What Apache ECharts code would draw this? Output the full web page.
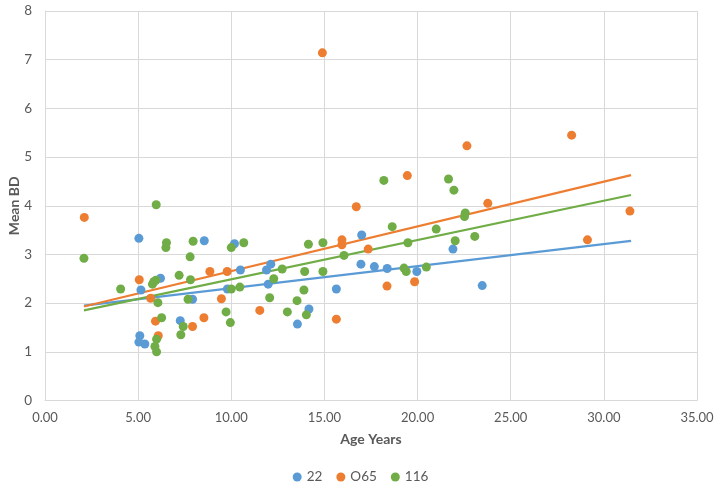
<!DOCTYPE html>
<html><head><meta charset="utf-8">
<script src="https://cdn.jsdelivr.net/npm/echarts@6/dist/echarts.min.js"></script>
<style>html,body{margin:0;padding:0;background:#fff}#c{width:721px;height:486px}</style>
</head><body><div id="c"></div>
<script>
const seriesNames = ['22', 'O65', '116'];
const data22 = [[5.04,3.33],[8.55,3.28],[5.15,2.27],[6.20,2.51],[7.92,2.08],[7.26,1.64],[5.09,1.33],[5.04,1.20],[5.36,1.16],[9.79,2.29],[10.17,3.22],[10.49,2.68],[11.89,2.68],[12.12,2.80],[11.98,2.39],[13.55,1.57],[14.17,1.88],[15.64,2.29],[17.0,3.40],[16.96,2.80],[17.68,2.75],[18.37,2.71],[19.96,2.65],[21.9,3.11],[23.47,2.36]];
const dataO65 = [[2.11,3.76],[5.06,2.48],[5.67,2.10],[5.93,1.63],[6.08,1.33],[8.85,2.65],[9.78,2.65],[9.47,2.09],[8.53,1.70],[7.92,1.52],[11.53,1.85],[14.89,7.14],[16.71,3.98],[15.94,3.30],[15.94,3.20],[17.35,3.11],[15.64,1.67],[18.36,2.35],[19.45,4.62],[19.84,2.44],[22.65,5.23],[23.77,4.05],[28.27,5.45],[29.12,3.30],[31.4,3.89]];
const data116 = [[2.09,2.92],[4.06,2.29],[5.97,4.02],[6.52,3.24],[6.49,3.14],[7.95,3.27],[7.79,2.95],[7.20,2.57],[7.81,2.48],[5.77,2.39],[5.84,2.44],[5.95,2.47],[6.06,2.01],[7.68,2.08],[6.26,1.70],[7.42,1.52],[7.29,1.35],[5.99,1.26],[5.90,1.11],[5.99,1.00],[9.72,1.82],[9.95,1.60],[10.0,3.14],[10.0,2.29],[10.67,3.24],[10.46,2.33],[12.73,2.70],[12.28,2.50],[12.06,2.11],[13.01,1.82],[13.53,2.05],[13.90,2.27],[14.03,1.76],[13.94,2.65],[14.14,3.21],[14.92,3.24],[14.92,2.65],[16.05,2.98],[18.19,4.52],[18.64,3.57],[21.66,4.55],[21.95,4.32],[21.0,3.52],[22.56,3.85],[22.52,3.78],[19.48,3.24],[22.02,3.28],[23.07,3.37],[19.27,2.72],[19.39,2.65],[20.47,2.74]];
// trendline endpoints
const trendX = [2.09, 31.46];
const trend22 = [1.95, 3.28];
const trendO65 = [1.93, 4.63];
const trend116 = [1.85, 4.22];

const colors = ['#5B9BD5', '#ED7D31', '#70AD47'];
const font = "Lato, 'Open Sans', sans-serif";
const pts = [data22, dataO65, data116];
const trends = [trend22, trendO65, trend116];

const series = [];
pts.forEach((d, i) => {
  series.push({
    name: seriesNames[i], type: 'scatter', data: d, symbol: 'circle', symbolSize: 9,
    itemStyle: { color: colors[i], opacity: 1 }, z: 3
  });
});
trends.forEach((t, i) => {
  series.push({
    name: seriesNames[i] + ' trend', type: 'line', data: trendX.map((x, k) => [x, t[k]]),
    showSymbol: false, symbol: 'none', lineStyle: { color: colors[i], width: 2.2 }, z: 2,
    silent: true
  });
});

const chart = echarts.init(document.getElementById('c'));
chart.setOption({
  animation: false,
  backgroundColor: '#fff',
  grid: { left: 45, right: 24, top: 11, bottom: 85.5, containLabel: false, outerBoundsMode: 'none' },
  legend: {
    data: seriesNames, top: 465, left: 'center', icon: 'circle', itemWidth: 9, itemHeight: 9, itemGap: 14,
    textStyle: { color: '#595959', fontSize: 13.5, fontFamily: font }
  },
  xAxis: {
    type: 'value', min: 0, max: 35, interval: 5,
    name: 'Age Years', nameLocation: 'middle', nameGap: 32, nameMoveOverlap: false,
    nameTextStyle: { color: '#595959', fontSize: 14, fontWeight: 'bold', fontFamily: font },
    axisLine: { show: true, lineStyle: { color: '#d9d9d9' } },
    axisTick: { show: false },
    axisLabel: { color: '#595959', fontSize: 13, fontFamily: font, margin: 11, formatter: v => v.toFixed(2) },
    splitLine: { show: true, lineStyle: { color: '#d9d9d9' } }
  },
  yAxis: {
    type: 'value', min: 0, max: 8, interval: 1,
    name: 'Mean BD', nameLocation: 'middle', nameGap: 24, nameRotate: 90, nameMoveOverlap: false,
    nameTextStyle: { color: '#595959', fontSize: 14, fontWeight: 'bold', fontFamily: font },
    axisLine: { show: true, lineStyle: { color: '#d9d9d9' } },
    axisTick: { show: false },
    axisLabel: { color: '#595959', fontSize: 13.5, fontFamily: font, margin: 13 },
    splitLine: { show: true, lineStyle: { color: '#d9d9d9' } }
  },
  series: series
});
</script></body></html>
